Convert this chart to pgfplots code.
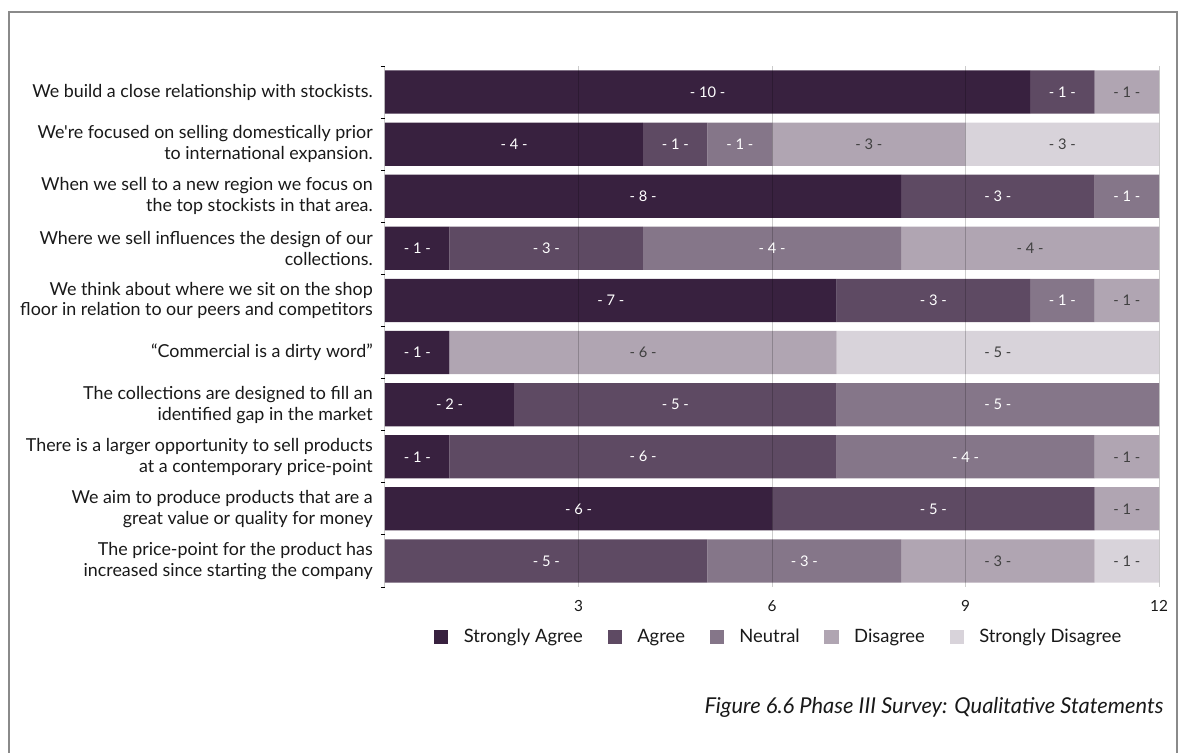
\documentclass[border=0pt]{standalone}
\usepackage{fontspec}
\setmainfont{Lato}[Ligatures=TeXOff]
\usepackage{pgfplots}
\usepackage{pgfplotstable}
\pgfplotsset{compat=1.18}
\definecolor{cSA}{RGB}{56,33,63}
\definecolor{cA}{RGB}{94,74,99}
\definecolor{cN}{RGB}{133,118,137}
\definecolor{cD}{RGB}{176,165,178}
\definecolor{cSD}{RGB}{216,211,218}
\definecolor{frame}{RGB}{138,138,138}
\definecolor{dtext}{RGB}{64,64,64}
\pgfplotsset{sqleg/.style={legend image code/.code={\fill[##1] (0pt,-5.4pt) rectangle (10.8pt,5.4pt);}}}

\pgfplotstableread{
idx SA A N D SD
0 10 1 0 1 0
1 4 1 1 3 3
2 8 3 1 0 0
3 1 3 4 4 0
4 7 3 1 1 0
5 1 0 0 6 5
6 2 5 5 0 0
7 1 6 4 1 0
8 6 5 0 1 0
9 0 5 3 3 1
}\survey

\pgfplotstableread{
x y v
5 0 10
10.5 0 1
2 1 4
4.5 1 1
5.5 1 1
4 2 8
9.5 2 3
11.5 2 1
0.5 3 1
2.5 3 3
6 3 4
3.5 4 7
8.5 4 3
10.5 4 1
0.5 5 1
1 6 2
4.5 6 5
9.5 6 5
0.5 7 1
4 7 6
9 7 4
3 8 6
8.5 8 5
2.5 9 5
6.5 9 3
}\lightlabels

\pgfplotstableread{
x y v
11.5 0 1
7.5 1 3
10.5 1 3
10 3 4
11.5 4 1
4 5 6
9.5 5 5
11.5 7 1
11.5 8 1
9.5 9 3
11.5 9 1
}\darklabels

\begin{document}
\begin{tikzpicture}
\useasboundingbox (0,0) rectangle (887.25pt,-564.75pt);
\draw[frame, line width=1.2pt] (6.75pt,-565pt) -- (6.75pt,-9pt) -- (882.75pt,-9pt) -- (882.75pt,-565pt);
\begin{axis}[
  at={(288.75pt,-49.5pt)}, anchor=north west,
  scale only axis, width=580.5pt, height=390.75pt,
  xbar stacked, bar width=0.83,
  xmin=0, xmax=12, ymin=-0.5, ymax=9.5, y dir=reverse,
  xtick={0,3,6,9,12}, xticklabels={,3,6,9,12},
  ytick={0,...,9},
  yticklabels={
    {We build a close relationship with stockists.},
    {We're focused on selling domestically prior\\to international expansion.},
    {When we sell to a new region we focus on\\the top stockists in that area.},
    {Where we sell influences the design of our\\collections.},
    {We think about where we sit on the shop\\floor in relation to our peers and competitors},
    {“Commercial is a dirty word”},
    {The collections are designed to fill an\\identified gap in the market},
    {There is a larger opportunity to sell products\\at a contemporary price-point},
    {We aim to produce products that are a\\great value or quality for money},
    {The price-point for the product has\\increased since starting the company}},
  yticklabel style={align=right, font=\fontsize{13.4}{15.6}\selectfont, inner sep=0pt, xshift=-9pt, text=black!90},
  xticklabel style={font=\fontsize{11.5}{12}\selectfont, inner sep=0pt, yshift=-10pt, text=black!90},
  /pgf/number format/assume math mode=true,
  xmajorgrids, major grid style={black, opacity=0.2, line width=0.75pt},
  axis on top,
  axis line style={draw=none},
  major tick length=0pt,
  xtick pos=bottom, ytick pos=left,
  extra y ticks={-0.5,0.5,...,9.5}, extra y tick labels={},
  extra y tick style={major tick length=3pt, tick align=outside, tick style={black, line width=0.7pt}, ymajorgrids=false, xmajorgrids=false},
  legend columns=5,
  legend style={at={(0.509,-0.096)}, anchor=center, draw=none, font=\fontsize{13.8}{15}\selectfont, text=black!90,
     /tikz/every odd column/.append style={column sep=9.5pt},
     /tikz/every even column/.append style={column sep=16.5pt}},
]
\addplot[fill=cSA, draw=none, sqleg] table[x=SA, y=idx]{\survey};
\addlegendentry{Strongly Agree}
\addplot[fill=cA, draw=none, sqleg] table[x=A, y=idx]{\survey};
\addlegendentry{Agree}
\addplot[fill=cN, draw=none, sqleg] table[x=N, y=idx]{\survey};
\addlegendentry{Neutral}
\addplot[fill=cD, draw=none, sqleg] table[x=D, y=idx]{\survey};
\addlegendentry{Disagree}
\addplot[fill=cSD, draw=none, sqleg] table[x=SD, y=idx]{\survey};
\addlegendentry{Strongly Disagree}
\end{axis}
\begin{axis}[
  at={(288.75pt,-49.5pt)}, anchor=north west,
  scale only axis, width=580.5pt, height=390.75pt,
  xmin=0, xmax=12, ymin=-0.5, ymax=9.5, y dir=reverse,
  hide axis, clip=false,
  /pgf/number format/assume math mode=true,
]
\addplot[only marks, mark=none, point meta=explicit,
  nodes near coords={- \pgfmathprintnumber{\pgfplotspointmeta} -},
  nodes near coords style={anchor=center, text=white, font=\fontsize{11}{12}\selectfont}]
  table[x=x, y=y, meta=v]{\lightlabels};
\addplot[only marks, mark=none, point meta=explicit,
  nodes near coords={- \pgfmathprintnumber{\pgfplotspointmeta} -},
  nodes near coords style={anchor=center, text=dtext, font=\fontsize{11}{12}\selectfont}]
  table[x=x, y=y, meta=v]{\darklabels};
\end{axis}
\node[anchor=base east, font=\itshape\fontsize{16.4}{19}\selectfont, text=black!90] at (876pt,-535pt) {Figure 6.6 Phase III Survey: Qualitative Statements};
\end{tikzpicture}
\end{document}
